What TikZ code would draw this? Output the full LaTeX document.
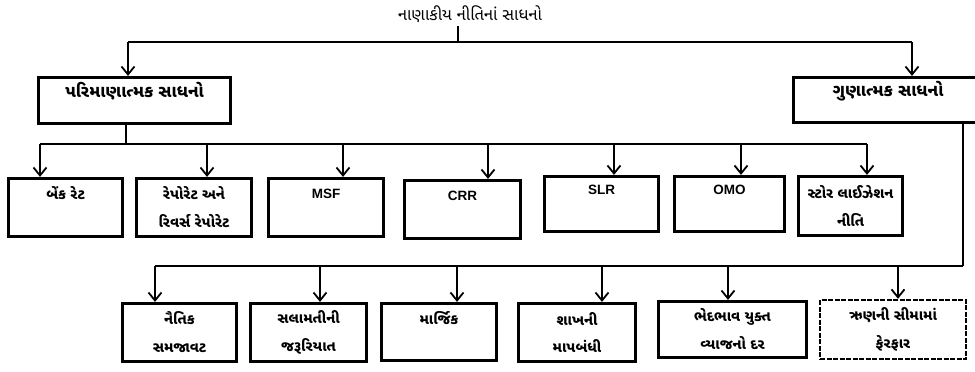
\documentclass[tikz,border=0pt]{standalone}
\usepackage{fontspec}
\setmainfont{Liberation Sans}
\newfontfamily\gujfont[Script=Gujarati]{Noto Sans Gujarati UI}
\usetikzlibrary{arrows.meta}

\begin{document}
\begin{tikzpicture}[x=1pt,y=-1pt,
  box/.style={draw,line width=3.2pt,align=center,inner sep=0pt,
    font=\gujfont\bfseries\fontsize{14.5}{28}\selectfont},
  headbox/.style={box,font=\gujfont\bfseries\fontsize{17}{28}\selectfont},
  latbox/.style={box,font=\bfseries\fontsize{13.5}{28}\selectfont},
  bus/.style={line width=1.8pt},
  arr/.style={bus,-{Straight Barb[length=8pt,width=13pt,line width=1.8pt]}}]
\useasboundingbox (0,0) rectangle (975,372);

\node[font=\gujfont\fontsize{16.5}{18}\selectfont] (title) at (470,14) {નાણાકીય નીતિનાં સાધનો};

\node[headbox,minimum width=192pt,minimum height=46pt] (quant) at (134.5,100.5) {પરિમાણાત્મક સાધનો\\[-6pt]~};
\node[headbox,minimum width=189pt,minimum height=45pt] (qual) at (888,100) {ગુણાત્મક સાધનો\\[-6pt]~};

\node[box,minimum width=114pt,minimum height=58pt] (bank) at (65.5,207.5) {બેંક રેટ\\~};
\node[box,minimum width=115pt,minimum height=58pt] (repo) at (194,207.5) {રેપોરેટ અને\\રિવર્સ રેપોરેટ};
\node[latbox,minimum width=115pt,minimum height=58pt] (msf) at (326,207.5) {MSF\\~};
\node[latbox,minimum width=116pt,minimum height=58pt] (crr) at (462.5,209.5) {CRR\\~};
\node[latbox,minimum width=114pt,minimum height=55pt] (slr) at (601.5,204) {SLR\\~};
\node[latbox,minimum width=110pt,minimum height=55pt] (omo) at (729.5,204) {OMO\\~};
\node[box,minimum width=104pt,minimum height=59pt] (steril) at (850.5,206) {સ્ટોર લાઈઝેશન\\નીતિ};

\node[box,minimum width=114pt,minimum height=58pt] (moral) at (179.5,332.5) {નૈતિક\\સમજાવટ};
\node[box,minimum width=116pt,minimum height=58pt] (safety) at (308.5,332.5) {સલામતીની\\જરૂરિયાત};
\node[box,minimum width=115pt,minimum height=57pt] (margin) at (439,332) {માર્જિક\\~};
\node[box,minimum width=117pt,minimum height=58pt] (credit) at (577,332.5) {શાખની\\માપબંધી};
\node[box,minimum width=148pt,minimum height=56pt] (discr) at (732.5,329.5) {ભેદભાવ યુક્ત\\વ્યાજનો દર};
\node[box,line width=2.4pt,dash pattern=on 5pt off 1.5pt,minimum width=146pt,minimum height=59pt] (loan) at (893,329.5) {ઋણની સીમામાં\\ફેરફાર};

% top level
\coordinate (top) at (458,42);
\coordinate (topl) at (128,42);
\coordinate (topr) at (912,42);
\draw[line width=2.6pt] (top |- title.south) -- (top);
\draw[bus] (topl) -- (topr);
\draw[arr] (topl) -- (topl |- quant.north);
\draw[arr] (topr) -- (topr |- qual.north);

% quantitative
\coordinate (qa) at (126,144);
\draw[bus] (qa |- quant.south) -- (qa);
\draw[bus] (40,144) -- (867,144);
\foreach \x/\n in {40/bank,207/repo,343/msf,488/crr,614/slr,741/omo,867/steril}
  \draw[arr] (\x,144) -- (\x,0 |- \n.north);

% qualitative
\coordinate (qb) at (963,266);
\draw[bus] (qb |- qual.south) -- (qb);
\draw[bus] (155,266) -- (qb);
\foreach \x/\n in {155/moral,320/safety,457/margin,602/credit,728/discr,898/loan}
  \draw[arr] (\x,266) -- (\x,0 |- \n.north);
\end{tikzpicture}
\end{document}
